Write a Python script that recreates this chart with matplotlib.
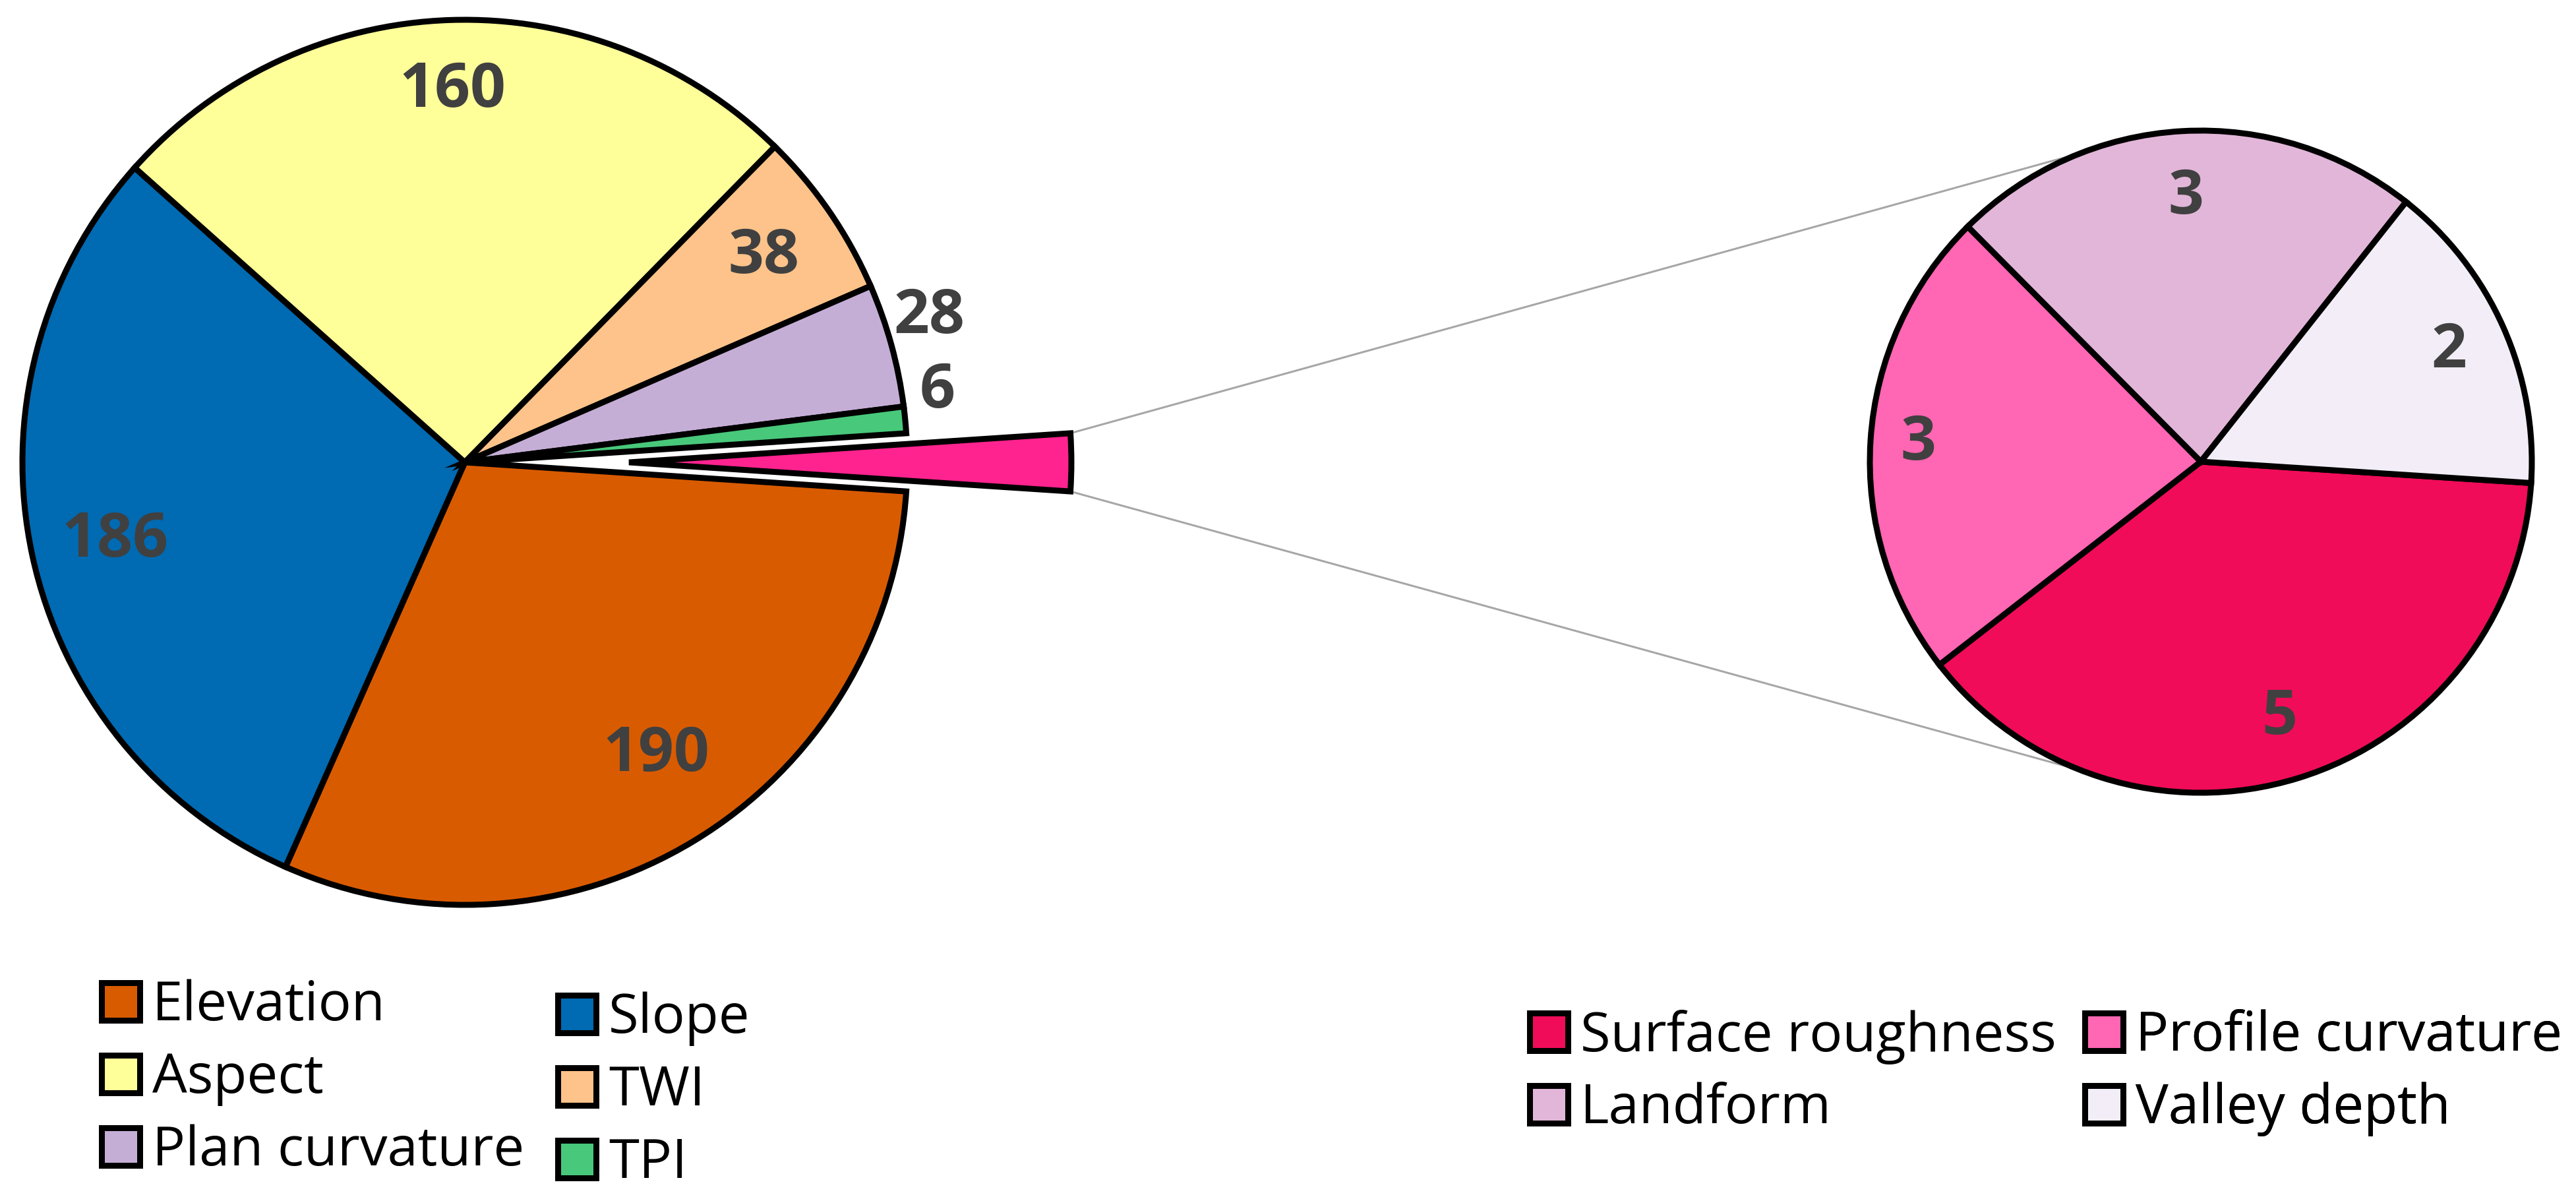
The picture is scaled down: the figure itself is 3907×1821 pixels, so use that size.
import matplotlib
matplotlib.use("Agg")
import matplotlib.pyplot as plt
from matplotlib.patches import Patch
import numpy as np

# ---------------- data ----------------
main_labels = ["Elevation", "Slope", "Aspect", "TWI", "Plan curvature", "TPI"]
main_values = [190, 186, 160, 38, 28, 6]
main_colors = ["#D95B00", "#006AB2", "#FFFF99", "#FDC38A", "#C5AED6", "#48C87A"]
other_color = "#FF2390"

sub_labels = ["Surface roughness", "Profile curvature", "Landform", "Valley depth"]
sub_values = [5, 3, 3, 2]
sub_colors = ["#F00C58", "#FF66B3", "#E2B6D9", "#F2EDF6"]

other_value = sum(sub_values)

# ---------------- layout / style ----------------
W, H = 3907, 1821
DPI = 200
PX = 72.0 / DPI  # points per pixel

plt.rcParams["font.family"] = ["Open Sans", "DejaVu Sans"]

fig = plt.figure(figsize=(W / DPI, H / DPI), dpi=DPI)
ax = fig.add_axes([0, 0, 1, 1])

main_center = (705, H - 701)
main_r = 671
sub_center = (3338, H - 700)
sub_r = 502
explode_frac = 0.371
label_color = "#404040"
edge_kw = dict(edgecolor="black", linewidth=9 * PX)

# main pie (with exploded "other" slice)
vals = main_values + [other_value]
cols = main_colors + [other_color]
explode = [0] * len(main_values) + [explode_frac * main_r]
start_main = -180.0 * other_value / sum(vals)
wedges, _ = ax.pie(vals, colors=cols, explode=explode, center=main_center,
                   radius=main_r, startangle=start_main, counterclock=False,
                   wedgeprops=edge_kw)

# secondary pie
sub_wedges, _ = ax.pie(sub_values, colors=sub_colors, center=sub_center,
                       radius=sub_r, startangle=-3.7, counterclock=False,
                       wedgeprops=edge_kw)

# data labels
main_lab_r = [0.79, 0.81, 0.84, 0.82, 1.10, 1.08]
main_lab_da = [2.0, 0.4, 0.0, 0.0, 2.0, 3.0]
for w, v, fr, da in zip(wedges[:len(main_values)], main_values, main_lab_r, main_lab_da):
    mid = np.deg2rad(0.5 * (w.theta1 + w.theta2) + da)
    cx, cy = w.center
    ax.text(cx + w.r * fr * np.cos(mid), cy + w.r * fr * np.sin(mid), str(v),
            ha="center", va="center", fontsize=34, fontweight="bold",
            color=label_color)

sub_lab_r = [0.81, 0.855, 0.80, 0.82]
for w, v, fr in zip(sub_wedges, sub_values, sub_lab_r):
    mid = np.deg2rad(0.5 * (w.theta1 + w.theta2))
    cx, cy = w.center
    ax.text(cx + w.r * fr * np.cos(mid), cy + w.r * fr * np.sin(mid), str(v),
            ha="center", va="center", fontsize=34, fontweight="bold",
            color=label_color)

# connector lines from exploded slice to secondary pie
ow = wedges[-1]
conn_ang = 111.0
for th, sgn in ((ow.theta2, 1), (ow.theta1, -1)):
    t = np.deg2rad(th)
    x0 = ow.center[0] + ow.r * np.cos(t)
    y0 = ow.center[1] + ow.r * np.sin(t)
    a = np.deg2rad(sgn * conn_ang)
    x1 = sub_center[0] + sub_r * np.cos(a)
    y1 = sub_center[1] + sub_r * np.sin(a)
    ax.plot([x0, x1], [y0, y1], color="#A6A6A6", lw=3 * PX, zorder=0,
            solid_capstyle="butt")

ax.set_xlim(0, W)
ax.set_ylim(0, H)
ax.axis("off")

# legends
LEG_FS = 30


def add_legend(labels, colors, anchor):
    handles = [Patch(facecolor=c, edgecolor="black", linewidth=9 * PX) for c in colors]
    leg = ax.legend(handles, labels, loc="center left", bbox_to_anchor=anchor,
                    bbox_transform=ax.transData, frameon=False, fontsize=LEG_FS,
                    handlelength=0.69, handleheight=0.675, handletextpad=0.23,
                    labelspacing=0.33, borderpad=0, borderaxespad=0)
    ax.add_artist(leg)
    return leg


mi = {l: i for i, l in enumerate(main_labels)}
col1 = ["Elevation", "Aspect", "Plan curvature"]
col2 = ["Slope", "TWI", "TPI"]
add_legend(col1, [main_colors[mi[l]] for l in col1], (154.5, H - 1636))
add_legend(col2, [main_colors[mi[l]] for l in col2], (846.5, H - 1655))

si = {l: i for i, l in enumerate(sub_labels)}
scol1 = ["Surface roughness", "Landform"]
scol2 = ["Profile curvature", "Valley depth"]
add_legend(scol1, [sub_colors[si[l]] for l in scol1], (2320.5, H - 1627))
add_legend(scol2, [sub_colors[si[l]] for l in scol2], (3162.5, H - 1627))

fig.savefig("out.png", dpi=DPI, facecolor="white")
